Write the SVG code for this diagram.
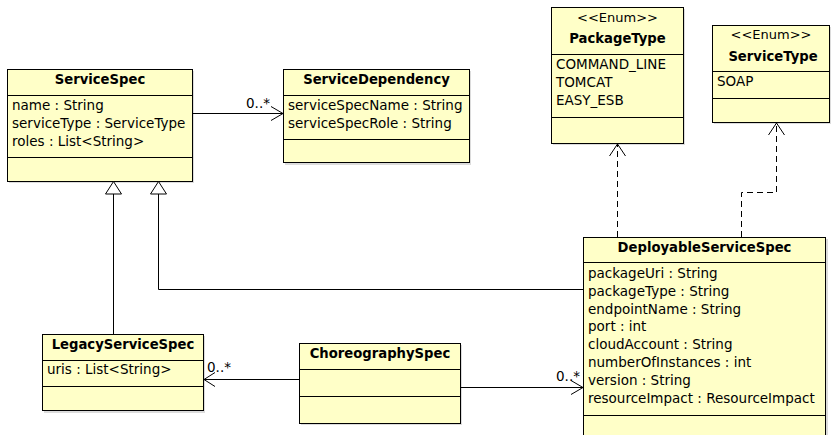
<svg xmlns="http://www.w3.org/2000/svg" width="831" height="435" viewBox="0 0 831 435">
  <style>
    .box { fill: #ffffc8; stroke: #000; stroke-width: 1; }
    .shadow { fill: #9a9a9a; opacity: 0.35; }
    .sep { stroke: #000; stroke-width: 1; }
    text { font-family: "DejaVu Sans", "Liberation Sans", sans-serif; font-size: 13.5px; fill: #000; }
    .title { font-weight: bold; text-anchor: middle; font-size: 13.2px; }
    .stereo { text-anchor: middle; font-size: 13px; }
    .edge { fill: none; stroke: #000; stroke-width: 1; }
    .dash { stroke-dasharray: 6 4; }
    .tri { fill: #fff; stroke: #000; stroke-width: 1; }
  </style>

  <!-- classes -->
  <g id="ServiceSpec">
    <rect class="shadow" x="9" y="71" width="185" height="112"/>
    <rect class="box" x="7.5" y="69.5" width="185" height="112"/>
    <line class="sep" x1="7.5" y1="95.5" x2="192.5" y2="95.5"/>
    <line class="sep" x1="7.5" y1="157.5" x2="192.5" y2="157.5"/>
    <text class="title" x="100" y="84">ServiceSpec</text>
    <text x="12" y="110">name : String</text>
    <text x="12" y="128">serviceType : ServiceType</text>
    <text x="12" y="146">roles : List&lt;String&gt;</text>
  </g>

  <g id="ServiceDependency">
    <rect class="shadow" x="285" y="71" width="186" height="94"/>
    <rect class="box" x="283.5" y="69.5" width="186" height="93"/>
    <line class="sep" x1="283.5" y1="95.5" x2="469.5" y2="95.5"/>
    <line class="sep" x1="283.5" y1="139.5" x2="469.5" y2="139.5"/>
    <text class="title" x="376.5" y="84">ServiceDependency</text>
    <text x="288" y="110">serviceSpecName : String</text>
    <text x="288" y="128">serviceSpecRole : String</text>
  </g>

  <g id="PackageType">
    <rect class="shadow" x="553" y="9" width="132" height="136"/>
    <rect class="box" x="551.5" y="7.5" width="132" height="136"/>
    <line class="sep" x1="551.5" y1="54.5" x2="683.5" y2="54.5"/>
    <line class="sep" x1="551.5" y1="117.5" x2="683.5" y2="117.5"/>
    <text class="stereo" x="617.5" y="22">&lt;&lt;Enum&gt;&gt;</text>
    <text class="title" x="617.5" y="43">PackageType</text>
    <text x="556" y="69">COMMAND_LINE</text>
    <text x="556" y="87">TOMCAT</text>
    <text x="556" y="105">EASY_ESB</text>
  </g>

  <g id="ServiceType">
    <rect class="shadow" x="714" y="27" width="120" height="97"/>
    <rect class="box" x="712.5" y="25.5" width="117" height="97"/>
    <line class="sep" x1="712.5" y1="71.5" x2="829.5" y2="71.5"/>
    <line class="sep" x1="712.5" y1="98.5" x2="829.5" y2="98.5"/>
    <text class="stereo" x="771" y="39">&lt;&lt;Enum&gt;&gt;</text>
    <text class="title" x="773" y="61">ServiceType</text>
    <text x="717" y="86">SOAP</text>
  </g>

  <g id="DeployableServiceSpec">
    <rect class="shadow" x="585" y="239" width="243" height="200"/>
    <rect class="box" x="583.5" y="237.5" width="242" height="200"/>
    <line class="sep" x1="583.5" y1="262.5" x2="825.5" y2="262.5"/>
    <line class="sep" x1="583.5" y1="415.5" x2="825.5" y2="415.5"/>
    <text class="title" x="704.5" y="252">DeployableServiceSpec</text>
    <text x="588" y="278">packageUri : String</text>
    <text x="588" y="296">packageType : String</text>
    <text x="588" y="314">endpointName : String</text>
    <text x="588" y="331">port : int</text>
    <text x="588" y="349">cloudAccount : String</text>
    <text x="588" y="367">numberOfInstances : int</text>
    <text x="588" y="385">version : String</text>
    <text x="588" y="403">resourceImpact : ResourceImpact</text>
  </g>

  <g id="LegacyServiceSpec">
    <rect class="shadow" x="44" y="336" width="161" height="77"/>
    <rect class="box" x="42.5" y="334.5" width="161" height="76"/>
    <line class="sep" x1="42.5" y1="360.5" x2="203.5" y2="360.5"/>
    <line class="sep" x1="42.5" y1="386.5" x2="203.5" y2="386.5"/>
    <text class="title" x="123" y="349">LegacyServiceSpec</text>
    <text x="47" y="374">uris : List&lt;String&gt;</text>
  </g>

  <g id="ChoreographySpec">
    <rect class="shadow" x="301" y="345" width="161" height="80"/>
    <rect class="box" x="299.5" y="343.5" width="161" height="80"/>
    <line class="sep" x1="299.5" y1="369.5" x2="460.5" y2="369.5"/>
    <line class="sep" x1="299.5" y1="396.5" x2="460.5" y2="396.5"/>
    <text class="title" x="380" y="358">ChoreographySpec</text>
  </g>

  <!-- relationships -->
  <g id="connectors">
    <!-- ServiceSpec -> ServiceDependency -->
    <path class="edge" d="M192.5 113.5 H283"/>
    <path class="edge" d="M271 106.5 L283 113.5 L271 120.5"/>
    <text x="246" y="108">0..*</text>

    <!-- LegacyServiceSpec generalizes ServiceSpec -->
    <path class="edge" d="M113.5 334 V194"/>
    <path class="tri" d="M113.5 181.5 L121.5 194 L105.5 194 Z"/>

    <!-- DeployableServiceSpec generalizes ServiceSpec -->
    <path class="edge" d="M583 289.5 H158.5 V194"/>
    <path class="tri" d="M158.5 181.5 L166.5 194 L150.5 194 Z"/>

    <!-- DeployableServiceSpec uses PackageType -->
    <path class="edge dash" d="M617.5 237 V144"/>
    <path class="edge" d="M609.5 156 L617.5 144 L625.5 156"/>

    <!-- DeployableServiceSpec uses ServiceType -->
    <path class="edge dash" d="M741.5 237 V192.5 H776.5 V123"/>
    <path class="edge" d="M768.5 135 L776.5 123 L784.5 135"/>

    <!-- ChoreographySpec -> LegacyServiceSpec -->
    <path class="edge" d="M299 379.5 H204"/>
    <path class="edge" d="M215 372.5 L204 379.5 L215 386.5"/>
    <text x="207" y="372">0..*</text>

    <!-- ChoreographySpec -> DeployableServiceSpec -->
    <path class="edge" d="M460 387.5 H583"/>
    <path class="edge" d="M571 380.5 L583 387.5 L571 394.5"/>
    <text x="556" y="381">0..*</text>
  </g>
</svg>
